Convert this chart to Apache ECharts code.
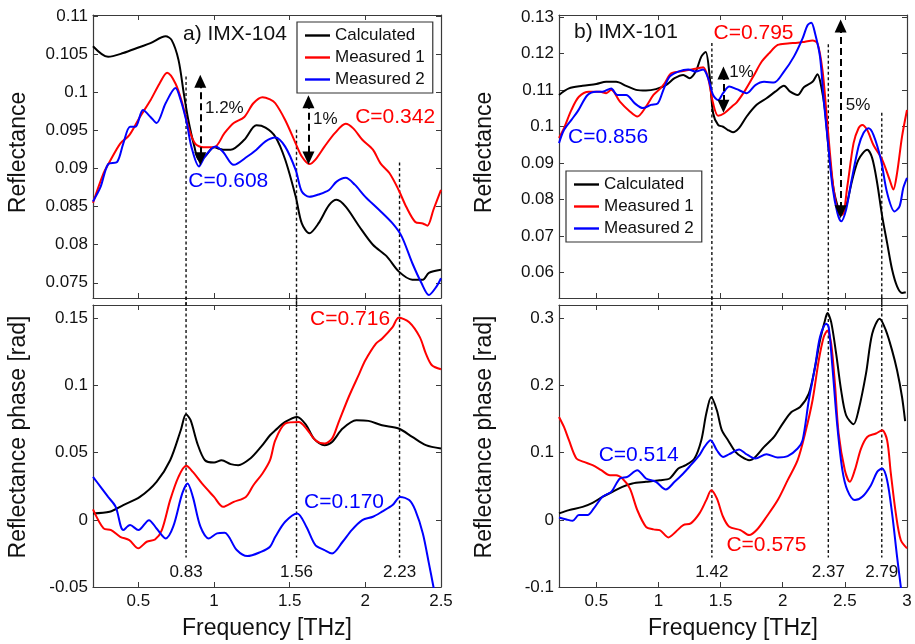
<!DOCTYPE html>
<html>
<head>
<meta charset="utf-8">
<script src="https://cdn.jsdelivr.net/npm/echarts@6/dist/echarts.min.js"></script>
<style>
  html, body { margin: 0; padding: 0; background: #fff; }
  #chart { width: 915px; height: 644px; }
</style>
</head>
<body>
<div id="chart"></div>
<script>
// ---- tick values ----
const freqTicksA = [0.5, 1, 1.5, 2, 2.5];
const freqTicksB = [0.5, 1, 1.5, 2, 2.5, 3];
const reflTicksA = [0.075, 0.08, 0.085, 0.09, 0.095, 0.1, 0.105, 0.11];
const phaseTicksA = [-0.05, 0, 0.05, 0.1, 0.15];
const reflTicksB = [0.06, 0.07, 0.08, 0.09, 0.1, 0.11, 0.12, 0.13];
const phaseTicksB = [-0.1, 0, 0.1, 0.2, 0.3];
const seriesNames = ['Calculated', 'Measured 1', 'Measured 2'];

// ---- a) IMX-104 reflectance [freq THz, value] ----
const calcReflA = [[0.2,0.1061],[0.3,0.1047],[0.4,0.1052],[0.51,0.1060],[0.58,0.1065],[0.68,0.1074],[0.72,0.1069],[0.765,0.1043],[0.8,0.0999],[0.83,0.0964],[0.87,0.0929],[0.9,0.0912],[0.94,0.0916],[1.0,0.0928],[1.06,0.0925],[1.11,0.0925],[1.2,0.0938],[1.28,0.0957],[1.34,0.0954],[1.405,0.0942],[1.47,0.0912],[1.54,0.0863],[1.58,0.0828],[1.63,0.0815],[1.69,0.0828],[1.76,0.0852],[1.81,0.0859],[1.87,0.0850],[1.96,0.0824],[2.05,0.0800],[2.14,0.0785],[2.22,0.0765],[2.31,0.0754],[2.38,0.0754],[2.42,0.0763],[2.5,0.0767]];
const meas1ReflA = [[0.2,0.0855],[0.27,0.0894],[0.31,0.0909],[0.38,0.0933],[0.44,0.0944],[0.51,0.0968],[0.58,0.0990],[0.64,0.1012],[0.69,0.1026],[0.745,0.1012],[0.79,0.0986],[0.83,0.0955],[0.875,0.0933],[0.93,0.0928],[1.0,0.0928],[1.07,0.0947],[1.13,0.0960],[1.2,0.0968],[1.26,0.0986],[1.32,0.0994],[1.37,0.0991],[1.405,0.0986],[1.47,0.0964],[1.54,0.0933],[1.58,0.0916],[1.63,0.0906],[1.67,0.0912],[1.73,0.0929],[1.8,0.0947],[1.87,0.0959],[1.92,0.0953],[1.98,0.0938],[2.05,0.0925],[2.1,0.0907],[2.16,0.0894],[2.22,0.0872],[2.27,0.0850],[2.33,0.0830],[2.38,0.0828],[2.41,0.0825],[2.45,0.0846],[2.5,0.0872]];
const meas2ReflA = [[0.2,0.0857],[0.25,0.0876],[0.3,0.0906],[0.36,0.0909],[0.4,0.0933],[0.445,0.0955],[0.48,0.0955],[0.53,0.0977],[0.58,0.0968],[0.62,0.0960],[0.68,0.0986],[0.745,0.1006],[0.78,0.0990],[0.82,0.0960],[0.85,0.0929],[0.9,0.0903],[0.94,0.0916],[1.01,0.0929],[1.06,0.0922],[1.13,0.0905],[1.22,0.0916],[1.28,0.0925],[1.34,0.0936],[1.405,0.0941],[1.47,0.0929],[1.54,0.0898],[1.58,0.0870],[1.63,0.0863],[1.69,0.0866],[1.76,0.0872],[1.81,0.0883],[1.87,0.0888],[1.93,0.0879],[2.0,0.0863],[2.09,0.0846],[2.18,0.0828],[2.24,0.0811],[2.31,0.0776],[2.37,0.0750],[2.42,0.0734],[2.47,0.0745],[2.5,0.0756]];

// ---- a) IMX-104 phase ----
const calcPhaseA = [[0.2,0.0048],[0.31,0.006],[0.4,0.011],[0.51,0.0171],[0.62,0.0283],[0.71,0.0444],[0.78,0.0667],[0.815,0.0786],[0.845,0.0742],[0.89,0.0568],[0.94,0.0444],[1.0,0.0427],[1.05,0.0444],[1.11,0.0415],[1.16,0.0407],[1.24,0.0457],[1.31,0.0543],[1.37,0.0630],[1.405,0.0667],[1.47,0.0729],[1.55,0.0766],[1.61,0.0704],[1.66,0.0605],[1.73,0.0556],[1.78,0.0580],[1.85,0.0680],[1.94,0.0742],[2.02,0.0737],[2.11,0.0704],[2.22,0.0680],[2.31,0.0618],[2.4,0.0556],[2.5,0.0531]];
const meas1PhaseA = [[0.2,0.0078],[0.27,-0.0064],[0.32,-0.0076],[0.38,-0.0126],[0.44,-0.0151],[0.5,-0.0212],[0.555,-0.0163],[0.61,-0.0146],[0.655,-0.0076],[0.71,0.0147],[0.765,0.0320],[0.816,0.0402],[0.86,0.0357],[0.92,0.0271],[1.0,0.0171],[1.06,0.0097],[1.13,0.0134],[1.21,0.0171],[1.26,0.0258],[1.32,0.0345],[1.37,0.0444],[1.405,0.0593],[1.47,0.0717],[1.56,0.0729],[1.61,0.0680],[1.67,0.0593],[1.73,0.0568],[1.78,0.0605],[1.82,0.0717],[1.89,0.0915],[1.96,0.1089],[2.0,0.1188],[2.07,0.1312],[2.11,0.1349],[2.18,0.1435],[2.22,0.1505],[2.29,0.1472],[2.36,0.1361],[2.4,0.1238],[2.44,0.1151],[2.5,0.1121]];
const meas2PhaseA = [[0.2,0.0320],[0.25,0.0246],[0.3,0.0171],[0.35,0.0097],[0.4,-0.0076],[0.445,-0.0039],[0.5,-0.0076],[0.57,-0.0002],[0.62,-0.0064],[0.68,-0.0138],[0.73,-0.0051],[0.79,0.0197],[0.825,0.0271],[0.86,0.0171],[0.91,-0.0051],[0.965,-0.0138],[1.02,-0.0101],[1.07,-0.0096],[1.15,-0.0225],[1.22,-0.0270],[1.31,-0.0238],[1.37,-0.0200],[1.405,-0.0126],[1.47,-0.0014],[1.55,0.0048],[1.61,-0.0051],[1.67,-0.0188],[1.73,-0.0225],[1.78,-0.0250],[1.85,-0.0163],[1.91,-0.0076],[1.98,-0.0002],[2.05,0.0023],[2.11,0.0061],[2.18,0.0110],[2.23,0.0171],[2.29,0.0147],[2.33,0.0072],[2.38,-0.0101],[2.42,-0.0324],[2.45,-0.0498],[2.47,-0.062]];

// ---- b) IMX-101 reflectance ----
const calcReflB = [[0.2,0.1086],[0.28,0.1104],[0.39,0.1111],[0.5,0.1116],[0.58,0.1122],[0.66,0.1122],[0.74,0.1111],[0.82,0.1100],[0.9,0.1098],[0.98,0.1102],[1.06,0.1113],[1.13,0.1132],[1.2,0.1141],[1.25,0.1132],[1.3,0.1150],[1.345,0.1191],[1.38,0.1204],[1.41,0.1145],[1.44,0.1036],[1.48,0.1004],[1.52,0.0999],[1.56,0.0990],[1.6,0.0984],[1.65,0.0996],[1.71,0.1027],[1.79,0.1059],[1.87,0.1077],[1.94,0.1095],[2.01,0.1111],[2.06,0.1095],[2.12,0.1086],[2.17,0.1107],[2.24,0.1122],[2.28,0.1143],[2.31,0.1109],[2.34,0.1045],[2.37,0.0936],[2.41,0.0827],[2.45,0.0772],[2.47,0.0758],[2.51,0.0781],[2.56,0.0854],[2.61,0.0909],[2.68,0.0936],[2.72,0.0913],[2.76,0.0845],[2.8,0.0754],[2.84,0.0681],[2.88,0.0608],[2.92,0.0562],[2.96,0.0544],[2.99,0.0546]];
const meas1ReflB = [[0.2,0.0968],[0.24,0.0995],[0.3,0.1045],[0.36,0.1081],[0.44,0.1095],[0.53,0.1095],[0.58,0.1091],[0.62,0.1100],[0.69,0.1068],[0.77,0.1041],[0.83,0.1027],[0.9,0.1054],[0.96,0.1086],[1.01,0.1102],[1.05,0.1118],[1.1,0.1145],[1.17,0.1150],[1.24,0.1154],[1.32,0.1159],[1.36,0.1162],[1.4,0.1132],[1.44,0.1063],[1.48,0.1029],[1.53,0.1036],[1.59,0.1054],[1.63,0.1066],[1.7,0.1100],[1.77,0.1141],[1.83,0.1177],[1.89,0.1200],[1.96,0.1223],[2.04,0.1227],[2.12,0.1229],[2.18,0.1232],[2.24,0.1235],[2.28,0.1227],[2.32,0.1154],[2.35,0.1045],[2.38,0.0927],[2.41,0.0827],[2.45,0.0761],[2.48,0.0758],[2.52,0.0836],[2.57,0.0954],[2.61,0.0995],[2.64,0.1004],[2.68,0.0990],[2.73,0.0949],[2.8,0.0909],[2.86,0.0854],[2.89,0.0827],[2.92,0.0872],[2.96,0.0972],[3.0,0.1045]];
const meas2ReflB = [[0.2,0.0954],[0.24,0.0990],[0.3,0.1018],[0.35,0.1041],[0.43,0.1086],[0.5,0.1095],[0.55,0.1095],[0.62,0.1104],[0.67,0.1086],[0.74,0.1086],[0.81,0.1063],[0.875,0.1050],[0.94,0.1059],[0.995,0.1063],[1.04,0.1100],[1.09,0.1136],[1.16,0.1150],[1.24,0.1156],[1.3,0.1150],[1.36,0.1156],[1.4,0.1132],[1.44,0.1086],[1.48,0.1072],[1.52,0.1091],[1.57,0.1109],[1.63,0.1102],[1.71,0.1091],[1.78,0.1113],[1.85,0.1122],[1.93,0.1120],[2.01,0.1150],[2.09,0.1191],[2.16,0.1241],[2.2,0.1277],[2.23,0.1284],[2.26,0.1255],[2.3,0.1191],[2.33,0.1072],[2.37,0.0936],[2.4,0.0836],[2.44,0.0763],[2.47,0.0740],[2.51,0.0772],[2.55,0.0845],[2.61,0.0945],[2.65,0.0982],[2.69,0.0995],[2.73,0.0977],[2.79,0.0909],[2.84,0.0818],[2.9,0.0767],[2.94,0.0781],[2.97,0.0831],[3.0,0.0859]];

// ---- b) IMX-101 phase ----
const calcPhaseB = [[0.2,0.0096],[0.28,0.0145],[0.39,0.0194],[0.47,0.0254],[0.55,0.0343],[0.63,0.0417],[0.71,0.0492],[0.79,0.0542],[0.9,0.0566],[1.01,0.0591],[1.09,0.0616],[1.16,0.0765],[1.22,0.0814],[1.29,0.0914],[1.345,0.1186],[1.385,0.1583],[1.425,0.1830],[1.47,0.1632],[1.51,0.1335],[1.56,0.1186],[1.62,0.1012],[1.67,0.0938],[1.73,0.0889],[1.78,0.0938],[1.85,0.1086],[1.93,0.1235],[2.0,0.1434],[2.07,0.1607],[2.14,0.1681],[2.21,0.1880],[2.26,0.2276],[2.3,0.2673],[2.34,0.2970],[2.36,0.3079],[2.39,0.2945],[2.43,0.2475],[2.47,0.1929],[2.51,0.1558],[2.57,0.1424],[2.61,0.1632],[2.67,0.2178],[2.72,0.2772],[2.78,0.2996],[2.83,0.2822],[2.88,0.2524],[2.92,0.2227],[2.96,0.1830],[2.985,0.147]];
const meas1PhaseB = [[0.2,0.1533],[0.24,0.1384],[0.28,0.1186],[0.34,0.0914],[0.4,0.0863],[0.47,0.0814],[0.54,0.0740],[0.61,0.0665],[0.66,0.0665],[0.71,0.0616],[0.77,0.0468],[0.83,0.0145],[0.9,-0.0103],[0.96,-0.0142],[1.01,-0.0152],[1.08,-0.0261],[1.14,-0.0177],[1.2,-0.0078],[1.26,-0.0053],[1.33,0.0096],[1.385,0.0294],[1.425,0.0442],[1.47,0.0319],[1.52,0.0046],[1.57,-0.0103],[1.66,-0.0152],[1.73,-0.0227],[1.79,-0.0152],[1.87,0.0046],[1.96,0.0294],[2.04,0.0591],[2.12,0.0889],[2.18,0.1286],[2.24,0.1781],[2.29,0.2375],[2.33,0.2722],[2.36,0.2822],[2.39,0.2624],[2.42,0.2029],[2.45,0.1286],[2.5,0.0740],[2.54,0.0566],[2.58,0.0740],[2.63,0.1062],[2.68,0.1235],[2.75,0.1286],[2.8,0.1335],[2.84,0.1186],[2.87,0.0691],[2.91,0.0096],[2.95,-0.0301],[3.0,-0.0425]];
const meas2PhaseB = [[0.2,0.0036],[0.26,0.0006],[0.31,-0.0014],[0.36,0.0071],[0.43,0.0071],[0.48,0.0170],[0.55,0.0343],[0.62,0.0417],[0.69,0.0616],[0.75,0.0641],[0.83,0.0740],[0.9,0.0616],[0.98,0.0566],[1.06,0.0453],[1.13,0.0566],[1.2,0.0691],[1.26,0.0814],[1.33,0.0963],[1.37,0.1086],[1.42,0.1186],[1.47,0.1037],[1.52,0.0938],[1.57,0.0978],[1.65,0.1047],[1.7,0.0988],[1.78,0.0914],[1.87,0.0978],[1.96,0.0929],[2.04,0.0948],[2.12,0.1062],[2.16,0.1186],[2.21,0.1781],[2.26,0.2276],[2.3,0.2722],[2.35,0.2921],[2.37,0.2871],[2.4,0.2276],[2.44,0.1384],[2.48,0.0740],[2.52,0.0442],[2.58,0.0294],[2.64,0.0343],[2.71,0.0517],[2.76,0.0715],[2.8,0.0765],[2.84,0.0591],[2.88,0.0096],[2.92,-0.0549],[2.95,-0.0995],[2.97,-0.13]];

// ---- marked resonance frequencies (dotted guides) ----
const guideFreqA = [0.815, 1.545, 2.226];
const guideTextA = ['0.83', '1.56', '2.23'];
const guideTopA = [0.1021, 0.0951, 0.0908];
const guideFreqB = [1.43, 2.367, 2.797];
const guideTextB = ['1.42', '2.37', '2.79'];
const guideTopB = [0.1228, 0.1225, 0.1037];

// ---- double arrows [freq, upper, lower] ----
const arrowsA = [[0.909, 0.1015, 0.0913], [1.624, 0.0988, 0.0914]];
const arrowsB = [[1.523, 0.1146, 0.1055], [2.466, 0.1275, 0.0766]];

// ---- text notes [freq, value, text] ----
const notesReflA = [[1.068, 0.0979, '1.2%'], [1.736, 0.0965, '1%']];
const corrRedReflA = [[2.197, 0.0967, 'C=0.342']];
const corrBlueReflA = [[1.094, 0.0883, 'C=0.608']];
const corrRedPhaseA = [[1.899, 0.1493, 'C=0.716']];
const corrBluePhaseA = [[1.859, 0.0132, 'C=0.170']];
const notesReflB = [[1.668, 0.1149, '1%'], [2.607, 0.1059, '5%']];
const corrRedReflB = [[1.765, 0.1255, 'C=0.795']];
const corrBlueReflB = [[0.595, 0.0971, 'C=0.856']];
const corrRedPhaseB = [[1.869, -0.0375, 'C=0.575']];
const corrBluePhaseB = [[0.841, 0.0963, 'C=0.514']];

const FONT = '"Liberation Sans", Arial, sans-serif';
const INK = '#111111';
const FRAME = '#3a3a3a';
const BLACK = '#000000', RED = '#ff0000', BLUE = '#0000ff';

const panels = [
  { grid: { left: 93, top: 15, width: 348, height: 283 }, x: [0.2, 2.5], y: [0.073, 0.1102], xt: freqTicksA, yt: reflTicksA, yName: 'Reflectance', bottom: false },
  { grid: { left: 93, top: 305, width: 348, height: 282 }, x: [0.2, 2.5], y: [-0.05, 0.16], xt: freqTicksA, yt: phaseTicksA, yName: 'Reflectance phase [rad]', bottom: true },
  { grid: { left: 559, top: 15, width: 348, height: 283 }, x: [0.2, 3], y: [0.053, 0.1305], xt: freqTicksB, yt: reflTicksB, yName: 'Reflectance', bottom: false },
  { grid: { left: 559, top: 305, width: 348, height: 282 }, x: [0.2, 3], y: [-0.1, 0.32], xt: freqTicksB, yt: phaseTicksB, yName: 'Reflectance phase [rad]', bottom: true }
];

function fmt(v) { return String(parseFloat(Number(v).toFixed(4))); }

const xAxis = [], yAxis = [];
panels.forEach((p, gi) => {
  const common = {
    type: 'value', gridIndex: gi, splitLine: { show: false },
    axisLine: { onZero: false, lineStyle: { color: FRAME, width: 1.2 } }
  };
  const xTick = { inside: true, length: 5, customValues: p.xt, lineStyle: { color: FRAME } };
  const yTick = { inside: true, length: 5, customValues: p.yt, lineStyle: { color: FRAME } };
  xAxis.push(Object.assign({}, common, {
    position: 'bottom', min: p.x[0], max: p.x[1], axisTick: xTick,
    axisLabel: { show: p.bottom, customValues: p.xt, formatter: fmt, margin: 6, fontSize: 17, color: INK, fontFamily: FONT },
    name: p.bottom ? 'Frequency [THz]' : '', nameLocation: 'middle', nameGap: 30,
    nameTextStyle: { fontSize: 23, color: INK, fontFamily: FONT }
  }));
  xAxis.push(Object.assign({}, common, {
    position: 'top', min: p.x[0], max: p.x[1], axisTick: xTick, axisLabel: { show: false }
  }));
  yAxis.push(Object.assign({}, common, {
    position: 'left', min: p.y[0], max: p.y[1], axisTick: yTick,
    axisLabel: { customValues: p.yt, formatter: fmt, margin: 5, fontSize: 17, color: INK, fontFamily: FONT },
    name: p.yName, nameLocation: 'middle', nameGap: 63,
    nameTextStyle: { fontSize: 23, color: INK, fontFamily: FONT, padding: p.bottom ? [0, 0, 0, 18] : [0, 0, 0, 8] }
  }));
  yAxis.push(Object.assign({}, common, {
    position: 'right', min: p.y[0], max: p.y[1], axisTick: yTick, axisLabel: { show: false }
  }));
});

function curve(name, data, color, gi) {
  return {
    type: 'line', name: name, data: data, xAxisIndex: 2 * gi, yAxisIndex: 2 * gi,
    symbol: 'none', smooth: 0.3, silent: true, z: 3,
    lineStyle: { color: color, width: 2 }, itemStyle: { color: color }
  };
}

function guide(x, y0, y1, gi) {
  return {
    type: 'line', data: [[x, y0], [x, y1]], xAxisIndex: 2 * gi, yAxisIndex: 2 * gi,
    symbol: 'none', clip: false, silent: true, z: 2,
    lineStyle: { color: '#111', width: 1.4, type: [3, 2.5] }
  };
}

function notes(items, color, gi, size) {
  return {
    type: 'scatter', xAxisIndex: 2 * gi, yAxisIndex: 2 * gi, symbolSize: 1, silent: true, z: 6,
    itemStyle: { color: 'rgba(0,0,0,0)', opacity: 1 },
    data: items.map(n => ({
      value: [n[0], n[1]],
      label: { show: true, position: 'inside', formatter: n[2], color: color, opacity: 1, textBorderWidth: 0, fontSize: size, fontFamily: FONT }
    }))
  };
}

function arrows(list, gi) {
  return {
    type: 'scatter', xAxisIndex: 2 * gi, yAxisIndex: 2 * gi, symbolSize: 0, silent: true, z: 5,
    data: list.map(a => [a[0], a[1]]),
    markLine: {
      silent: true, symbol: ['triangle', 'triangle'], symbolSize: [12, 13],
      label: { show: false },
      itemStyle: { color: '#000', opacity: 1 },
      lineStyle: { color: '#000', width: 2, type: [7, 4], opacity: 1 },
      data: list.map(a => [{ coord: [a[0], a[1]] }, { coord: [a[0], a[2]] }])
    }
  };
}

const series = [
  curve(seriesNames[0], calcReflA, BLACK, 0),
  curve(seriesNames[1], meas1ReflA, RED, 0),
  curve(seriesNames[2], meas2ReflA, BLUE, 0),
  curve(seriesNames[0], calcPhaseA, BLACK, 1),
  curve(seriesNames[1], meas1PhaseA, RED, 1),
  curve(seriesNames[2], meas2PhaseA, BLUE, 1),
  curve(seriesNames[0], calcReflB, BLACK, 2),
  curve(seriesNames[1], meas1ReflB, RED, 2),
  curve(seriesNames[2], meas2ReflB, BLUE, 2),
  curve(seriesNames[0], calcPhaseB, BLACK, 3),
  curve(seriesNames[1], meas1PhaseB, RED, 3),
  curve(seriesNames[2], meas2PhaseB, BLUE, 3)
];

guideFreqA.forEach((f, i) => {
  series.push(guide(f, guideTopA[i], 0.0718, 0));
  series.push(guide(f, 0.166, -0.028, 1));
});
guideFreqB.forEach((f, i) => {
  series.push(guide(f, guideTopB[i], 0.0505, 2));
  series.push(guide(f, 0.332, -0.056, 3));
});

series.push(notes(guideFreqA.map((f, i) => [f, -0.039, guideTextA[i]]), INK, 1, 17));
series.push(notes(guideFreqB.map((f, i) => [f, -0.078, guideTextB[i]]), INK, 3, 17));
series.push(notes(notesReflA, INK, 0, 17));
series.push(notes(notesReflB, INK, 2, 17));
series.push(notes(corrRedReflA, RED, 0, 21));
series.push(notes(corrBlueReflA, BLUE, 0, 21));
series.push(notes(corrRedPhaseA, RED, 1, 21));
series.push(notes(corrBluePhaseA, BLUE, 1, 21));
series.push(notes(corrRedReflB, RED, 2, 21));
series.push(notes(corrBlueReflB, BLUE, 2, 21));
series.push(notes(corrRedPhaseB, RED, 3, 21));
series.push(notes(corrBluePhaseB, BLUE, 3, 21));
series.push(arrows(arrowsA, 0));
series.push(arrows(arrowsB, 2));

const legendBase = {
  orient: 'vertical', data: seriesNames, icon: 'rect', itemWidth: 25, itemHeight: 2.4, itemGap: 5,
  padding: [5, 8, 5, 8], borderColor: '#333', borderWidth: 1.2, backgroundColor: '#fff',
  textStyle: { fontSize: 17, color: INK, fontFamily: FONT, lineHeight: 17 }, selectedMode: false
};

const chart = echarts.init(document.getElementById('chart'), null, { renderer: 'canvas' });
chart.setOption({
  animation: false,
  backgroundColor: '#fff',
  textStyle: { fontFamily: FONT },
  title: [
    { text: 'a) IMX-104', left: 183, top: 24, padding: 0, textStyle: { fontSize: 21, fontWeight: 'normal', color: INK, fontFamily: FONT } },
    { text: 'b) IMX-101', left: 574, top: 22, padding: 0, textStyle: { fontSize: 21, fontWeight: 'normal', color: INK, fontFamily: FONT } }
  ],
  legend: [
    Object.assign({}, legendBase, { left: 297, top: 22 }),
    Object.assign({}, legendBase, { left: 566, top: 171 })
  ],
  grid: panels.map(p => p.grid),
  xAxis: xAxis,
  yAxis: yAxis,
  series: series
});
</script>
</body>
</html>
